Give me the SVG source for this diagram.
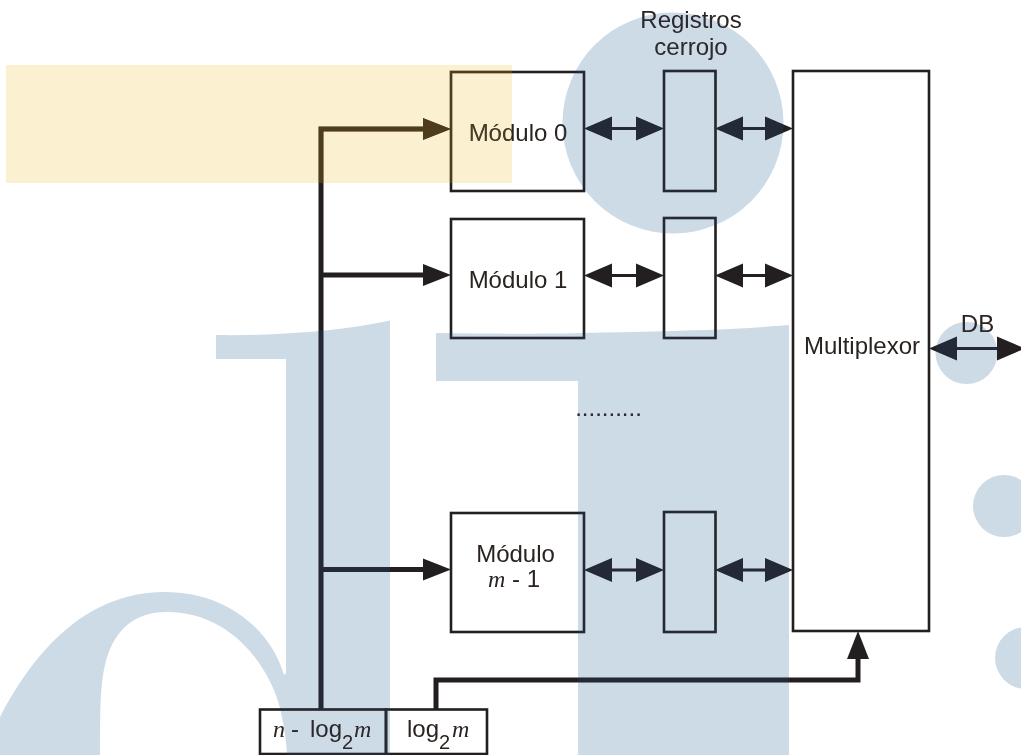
<svg xmlns="http://www.w3.org/2000/svg" xmlns:xlink="http://www.w3.org/1999/xlink" width="1021" height="755" viewBox="0 0 1021 755">
<style>
text{font-family:"Liberation Sans",Arial,sans-serif;font-size:24px;fill:#2a2320;text-anchor:middle}
.i{font-family:"Liberation Serif","Times New Roman",serif;font-style:italic}
.l{text-anchor:start}
.s{font-size:20px;text-anchor:start}
.box{fill:none;stroke:#231f20;stroke-width:2.6}
.bus{fill:none;stroke:#231f20;stroke-width:5;stroke-linejoin:miter}
.dbl{fill:none;stroke:#231f20;stroke-width:2.8}
.head{fill:#231f20;stroke:none}
</style>
<defs>
<g id="wash">
<circle cx="673" cy="123" r="110.5"/>
<circle cx="966.5" cy="353" r="31"/>
<circle cx="1004" cy="506" r="31"/>
<circle cx="1026" cy="658" r="31"/>
<path d="M216 335C280 336 340 331 390 320.5V755H287C286 735 283 722 280 708C271 672 235 612 167 612C130 612 112 635 105 665C101 682 100 700 100 755H0V717C30 660 80 592 165 592C225 592 270 628 284 675L286 673V359H216Z"/>
<path d="M436 333C500 334 560 334 600 332.500C670 331 730 330 789 325V755H578V381H436Z"/>
</g>
<path id="hd" class="head" d="M0 0L-28-11V11Z"/>
<path id="hd2" class="head" d="M0 0L-28-12V12Z"/>
</defs>
<rect width="1021" height="755" fill="#fff"/>
<g id="watermark" fill="#cddbe7"><use href="#wash"/></g>
<g id="connectors">
<path class="bus" d="M321 709V129H425"/>
<path class="bus" d="M321 275H425M321 569.500H425"/>
<path class="bus" d="M436 709V680H858V656"/>
<use href="#hd" transform="translate(451 129)"/>
<use href="#hd" transform="translate(451 275)"/>
<use href="#hd" transform="translate(451 569.500)"/>
<use href="#hd" transform="translate(858 631) rotate(-90)"/>
<g id="double-arrows">
<path class="dbl" d="M610 128.500H638M741 128.500H767M610 275.500H638M741 275.500H767M610 570H638M741 570H767M955 348.500H999"/>
<g id="a"><use href="#hd2" transform="translate(584 128.500) rotate(180)"/><use href="#hd2" transform="translate(664 128.500)"/><use href="#hd2" transform="translate(715 128.500) rotate(180)"/><use href="#hd2" transform="translate(793 128.500)"/></g>
<use href="#a" y="147"/>
<use href="#a" y="441.500"/>
<use href="#hd2" transform="translate(929 348.500) rotate(180)"/>
<use href="#hd2" transform="translate(1025 348.500)"/>
</g>
</g>
<g id="modulo-0"><rect class="box" x="451" y="72" width="133" height="119"/><text x="518" y="141">Módulo 0</text></g>
<g id="modulo-1"><rect class="box" x="451" y="219" width="133" height="119"/><text x="518" y="288">Módulo 1</text></g>
<g id="modulo-m1"><rect class="box" x="451" y="513" width="133" height="119"/><text x="515.500" y="561.500">Módulo</text><text x="514" y="587"><tspan class="i">m</tspan> - 1</text></g>
<g id="latch-0"><rect class="box" x="664" y="71" width="51.500" height="120"/></g>
<g id="latch-1"><rect class="box" x="664" y="218" width="51.500" height="120"/></g>
<g id="latch-m1"><rect class="box" x="664" y="512" width="51.500" height="120"/></g>
<g id="registros"><text x="691" y="27.500">Registros</text><text x="691" y="54.500">cerrojo</text></g>
<g id="multiplexor"><rect class="box" x="793" y="71" width="136" height="560"/><text x="862" y="354">Multiplexor</text></g>
<g id="db"><text x="977.500" y="332">DB</text></g>
<g id="dots"><text x="608.500" y="416">..........</text></g>
<g id="campo-alto"><rect class="box" x="260" y="709.500" width="126" height="44.500"/><text class="l" x="273" y="737"><tspan class="i">n</tspan></text><text class="l" x="291" y="737">-</text><text class="l" x="310" y="737">log</text><text class="s" x="342" y="749">2</text><text class="i l" x="354" y="737">m</text></g>
<g id="campo-bajo"><rect class="box" x="386" y="709.500" width="101" height="44.500"/><text class="l" x="407" y="737">log</text><text class="s" x="439" y="749">2</text><text class="i l" x="452" y="737">m</text></g>
<g id="ink-tint" fill="#1c2936" style="mix-blend-mode:lighten"><use href="#wash"/></g>
<rect id="highlight" x="6" y="65" width="506" height="118" fill="#fbf0d0" style="mix-blend-mode:multiply"/>
<rect id="highlight-ink" x="6" y="65" width="506" height="118" fill="#4f3c18" style="mix-blend-mode:lighten"/>
</svg>
